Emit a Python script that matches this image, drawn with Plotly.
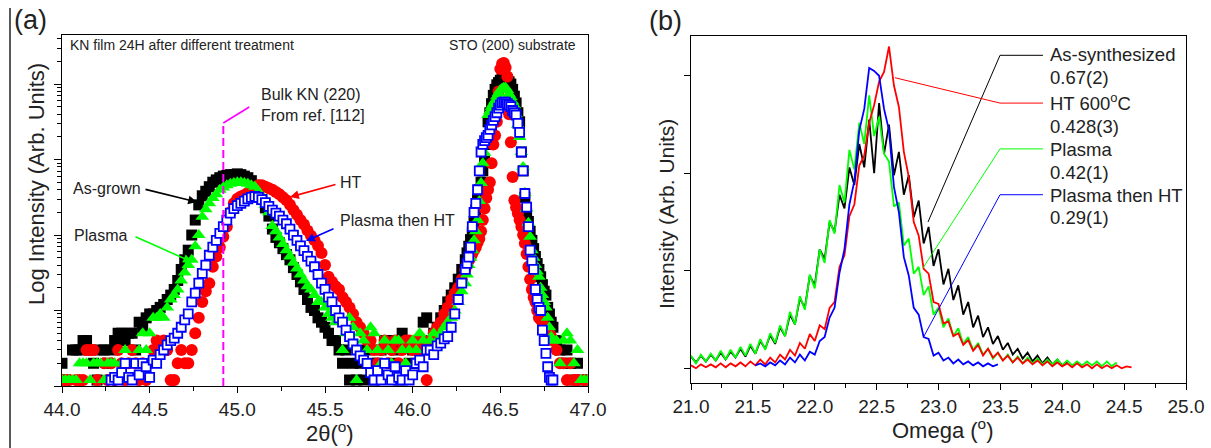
import plotly.graph_objects as go

# ---------------- Panel (a): 2theta scans (log intensity, counts) ----------------
TWO_THETA = [
    44.00, 44.02, 44.04, 44.06, 44.08, 44.10, 44.12, 44.14, 44.16, 44.18,
    44.20, 44.22, 44.24, 44.26, 44.28, 44.30, 44.32, 44.34, 44.36, 44.38,
    44.40, 44.42, 44.44, 44.46, 44.48, 44.50, 44.52, 44.54, 44.56, 44.58,
    44.60, 44.62, 44.64, 44.66, 44.68, 44.70, 44.72, 44.74, 44.76, 44.78,
    44.80, 44.82, 44.84, 44.86, 44.88, 44.90, 44.92, 44.94, 44.96, 44.98,
    45.00, 45.02, 45.04, 45.06, 45.08, 45.10, 45.12, 45.14, 45.16, 45.18,
    45.20, 45.22, 45.24, 45.26, 45.28, 45.30, 45.32, 45.34, 45.36, 45.38,
    45.40, 45.42, 45.44, 45.46, 45.48, 45.50, 45.52, 45.54, 45.56, 45.58,
    45.60, 45.62, 45.64, 45.66, 45.68, 45.70, 45.72, 45.74, 45.76, 45.78,
    45.80, 45.82, 45.84, 45.86, 45.88, 45.90, 45.92, 45.94, 45.96, 45.98,
    46.00, 46.02, 46.04, 46.06, 46.08, 46.10, 46.12, 46.14, 46.16, 46.18,
    46.20, 46.22, 46.24, 46.26, 46.28,
    46.30, 46.31, 46.32, 46.33, 46.34, 46.35, 46.36, 46.37, 46.38, 46.39,
    46.40, 46.41, 46.42, 46.43, 46.44, 46.45, 46.46, 46.47, 46.48, 46.49,
    46.50, 46.51, 46.52, 46.53, 46.54, 46.55, 46.56, 46.57, 46.58, 46.59,
    46.60, 46.61, 46.62, 46.63, 46.64, 46.65, 46.66, 46.67, 46.68, 46.69,
    46.70, 46.71, 46.72, 46.73, 46.74, 46.75, 46.76, 46.77, 46.78, 46.79,
    46.80, 46.82, 46.84, 46.86, 46.88, 46.90, 46.92, 46.94, 46.96, 46.98, 47.00,
]

AS_GROWN = [
    2, 1.2, None, 3, 3, 3, 4, 4, 3, 2,
    1.2, 3, 3, 2, 3, 4, 5, 5, 4, 5,
    5, 3, 7, 6, 8, 9, 9, 10, 11, 12,
    14, 16, 19, 25, 35, 47, 63, 100, 158, 251,
    331, 380, 437, 501, 537, 575, 603, 617, 631, 631,
    646, 631, 603, 575, 525, 457, 372, 295, 229, 178,
    120, 93, 79, 66, 55, 47, 37, 30, 24, 19,
    14, 11, 10, 8, 7, 6, 5, 4, 4, 3,
    2, 3, 1.2, 2, 1.2, 2, 1.2, 3, 2, 1.2,
    2, 3, 4, 4, 2, 3, 1.2, 5, 4, 2,
    3, 2, 4, 7, 8, 4, 5, 6, 8, 10,
    13, 16, 20, 26, 35,
    47, 58, 71, 87, 107, 151, 214, 295, 398, 501,
    708, 955, 1585, 3162, 4169, 5495, 7079, 8511, 9772, 10471,
    11220, 11482, 12023, 12023, 11482, 10715, 10000, 8511, 6918, 5623,
    4169, 3162, 1259, 708, 316, 195, 151, 112, 85, 66,
    52, 42, 35, 28, 22, 18, 16, 11, 9, 7,
    6, 4, 3, 2, 3, 2, 1.2, 2, 1.2, None, 1.2,
]

HT = [
    1.2, 1.2, 1.2, None, 1.2, 1.2, 1.2, 3, 3, 3,
    1.2, None, 2, 1.2, 2, 1.2, 3, 2, 1.2, 2,
    3, 2, 1.2, 2, 1.2, 2, 3, 4, 3, 4,
    3, 1.2, 1.2, 2, 3, 2, 2, 3, 5, 8,
    13, 18, 23, 38, 52, 69, 95, 129, 200, 263,
    302, 324, 339, 363, 389, 427, 457, 457, 437, 417,
    398, 372, 347, 316, 288, 251, 214, 186, 158, 138,
    115, 98, 85, 72, 58, 40, 28, 24, 21, 19,
    15, 13, 11, 9, 7, 6, 5, 4, 4, 3,
    2, 3, 4, 2, 3, 4, 2, 3, 4, 4,
    3, 4, 3, 4, 1.2, 4, 5, 6, 7, 9,
    11, 14, 17, 20, 26,
    35, 40, 46, 50, 56, 63, 69, 79, 89, 112,
    158, 224, 309, 398, 501, 891, 1585, 2089, 3162, 7943,
    15849, 18621, 19055, 16596, 12589, 3981, 1698, 589, 288, 234,
    195, 158, 129, 100, 78, 56, 38, 26, 19, 15,
    13, 10, 8, 7.6, 7, 6.3, 6, 5.2, 5, 4.5,
    4, 3, 2, 2, 1.2, 2, 1.2, 1.2, None, 1.2, None,
]

PLASMA = [
    1.2, 1.2, 1.2, 1.2, 1.2, 2, 2, 2, 1.2, 2,
    2, 2, 1.2, 2, 2, 2, 1.2, 2, 3, 2,
    2, 2, 3, 5, 3, 5, 8, 8, 9, 8,
    11, 14, 16, 19, 25, 32, 40, 47, 71, 100,
    174, 219, 263, 309, 347, 398, 427, 457, 479, 490,
    501, 501, 490, 479, 457, 437, 380, 316, 251, 200,
    132, 112, 93, 76, 63, 52, 43, 36, 30, 25,
    21, 19, 16, 13, 13, 11, 9, 8, 7, 8,
    3, 5, 8, 6, 1.2, 5, 4, 3, 6, 5,
    3, 2, 4, 3, 2, 4, 4, 3, 2, 3,
    4, 3, 5, 4, 3, 4, 5, 4, 5, 6,
    7, 8, 10, 13, 18,
    23, 30, 40, 50, 63, 85, 112, 158, 282, 490,
    891, 1230, 1995, 3890, 4365, 5012, 5495, 6026, 6918, 7586,
    8318, 8710, 8913, 8913, 8318, 7413, 6761, 5888, 5248, 3981,
    2884, 1995, 1259, 794, 363, 224, 145, 95, 63, 50,
    40, 33, 28, 20, 16, 13, 11, 8, 6, 4.5,
    4, 4, 2, 4, 5, 4, 2, 3, 1.2, 1.2, 1.2,
]

PLASMA_THEN_HT = [
    None, None, None, None, None, None, None, None, None, None,
    None, None, None, None, 1.2, 1.3, 1.2, 1.5, 2, 1.3,
    1.2, 2, 1.4, 2, 1.8, 1.3, 2.2, 2, 2.6, 3,
    3.5, 4, 4.3, 5, 6, 7.5, 9, 13, 17, 23,
    31, 40, 54, 69, 85, 105, 129, 158, 195, 224,
    245, 263, 282, 302, 316, 324, 316, 295, 269, 240,
    214, 195, 178, 158, 141, 120, 100, 85, 72, 62,
    52, 45, 38, 30, 23, 19, 15, 13, 10, 8,
    7, 5.5, 4.5, 3.6, 3, 2.5, 2.2, 2, 1.5, 1.2,
    1.6, 1.2, 2, 1.4, 1.2, 1.8, 1.3, 1.2, 1.6, 1.2,
    1.4, 2, 2.2, 1.8, 3, 3, 2.6, 3.4, 3.7, 4.2,
    4.5, 6, 9, 14, 23,
    35, 42, 51, 69, 129, 200, 263, 398, 708, 1259,
    1585, 1778, 1950, 2089, 2512, 2884, 3311, 3715, 4169, 4786,
    5248, 5623, 5754, 5754, 5495, 5248, 5012, 4467, 4169, 3890,
    3020, 2291, 1259, 708, 355, 234, 129, 63, 45, 35,
    19, 14, 11, 10, 5.5, 4, 2.7, 1.8, 1.3, 1.2,
    1.2, None, None, None, None, None, None, None, None, None, None,
]

# ---------------- Panel (b): rocking curves (omega scans, linear intensity) ----------------
OMEGA = [
    21.00, 21.04, 21.08, 21.12, 21.16, 21.20, 21.24, 21.28, 21.32, 21.36,
    21.40, 21.44, 21.48, 21.52, 21.56, 21.60, 21.64, 21.68, 21.72, 21.76,
    21.80, 21.84, 21.88, 21.92, 21.96, 22.00, 22.04, 22.08, 22.12, 22.16,
    22.20, 22.24, 22.28, 22.32, 22.36, 22.40, 22.44, 22.48, 22.52, 22.56,
    22.60, 22.64, 22.68, 22.72, 22.76, 22.80, 22.84, 22.88, 22.92, 22.96,
    23.00, 23.04, 23.08, 23.12, 23.16, 23.20, 23.24, 23.28, 23.32, 23.36,
    23.40, 23.44, 23.48, 23.52, 23.56, 23.60, 23.64, 23.68, 23.72, 23.76,
    23.80, 23.84, 23.88, 23.92, 23.96, 24.00, 24.04, 24.08, 24.12, 24.16,
    24.20, 24.24, 24.28, 24.32, 24.36, 24.40, 24.44, 24.48, 24.52, 24.56,
    24.60,
]

AS_SYNTHESIZED_B = [
    0.12, 0.06, 0.13, 0.07, 0.14, 0.08, 0.16, 0.09, 0.17, 0.11,
    0.20, 0.12, 0.23, 0.15, 0.28, 0.20, 0.34, 0.25, 0.42, 0.33,
    0.55, 0.45, 0.72, 0.62, 0.95, 0.85, 1.22, 1.12, 1.50, 1.40,
    1.78, 1.64, 2.06, 1.88, 2.30, 2.06, 2.55, 2.00, 2.72, 2.20,
    2.50, 1.98, 2.22, 1.78, 1.98, 1.55, 1.72, 1.28, 1.45, 1.05,
    1.22, 0.86, 1.02, 0.70, 0.85, 0.55, 0.68, 0.42, 0.54, 0.32,
    0.42, 0.25, 0.33, 0.19, 0.26, 0.14, 0.20, 0.10, 0.16, 0.07,
    0.13, 0.05, 0.11, 0.04, 0.09, 0.03, 0.07, None, None, None,
    None, None, None, None, None, None, None, None, None, None,
    None,
]

HT600_B = [
    0.03, 0.00, 0.04, 0.01, 0.04, 0.01, 0.05, 0.01, 0.05, 0.02,
    0.06, 0.02, 0.07, 0.03, 0.09, 0.04, 0.11, 0.06, 0.14, 0.09,
    0.19, 0.13, 0.26, 0.20, 0.35, 0.28, 0.44, 0.40, 0.62, 0.68,
    1.04, 1.16, 1.56, 1.68, 2.08, 2.18, 2.52, 2.70, 2.94, 3.04,
    3.30, 2.90, 2.68, 2.22, 1.96, 1.50, 1.36, 1.02, 0.97, 0.68,
    0.66, 0.46, 0.48, 0.33, 0.36, 0.24, 0.29, 0.18, 0.24, 0.13,
    0.20, 0.11, 0.16, 0.08, 0.13, 0.06, 0.11, 0.05, 0.09, 0.04,
    0.08, 0.03, 0.07, 0.02, 0.06, 0.02, 0.05, 0.01, 0.05, 0.01,
    0.04, 0.00, 0.04, 0.00, 0.03, 0.00, 0.03, 0.00, 0.02, 0.01,
    None,
]

PLASMA_B = [
    0.13, 0.05, 0.14, 0.07, 0.15, 0.08, 0.18, 0.09, 0.19, 0.11,
    0.22, 0.13, 0.25, 0.15, 0.30, 0.19, 0.36, 0.26, 0.44, 0.33,
    0.58, 0.45, 0.74, 0.60, 0.96, 0.82, 1.22, 1.08, 1.52, 1.38,
    1.88, 1.70, 2.24, 2.04, 2.52, 2.30, 2.80, 2.38, 2.58, 2.20,
    2.12, 1.66, 1.70, 1.26, 1.33, 0.97, 1.04, 0.75, 0.84, 0.55,
    0.62, 0.42, 0.51, 0.33, 0.41, 0.25, 0.32, 0.19, 0.26, 0.14,
    0.20, 0.10, 0.16, 0.08, 0.14, 0.06, 0.12, 0.05, 0.11, 0.05,
    0.10, 0.04, 0.09, 0.04, 0.09, 0.03, 0.08, 0.03, 0.07, 0.03,
    0.07, 0.03, 0.07, 0.02, 0.07, 0.02, 0.06, None, None, None,
    None,
]

PLASMA_THEN_HT_B = [
    None, None, None, None, None, None, None, None, None, None,
    None, None, None, 0.03, 0.05, 0.02, 0.06, 0.03, 0.08, 0.04,
    0.11, 0.06, 0.14, 0.08, 0.17, 0.14, 0.28, 0.32, 0.52, 0.62,
    0.98, 1.22, 1.68, 1.92, 2.44, 2.66, 3.08, 3.05, 3.00, 2.66,
    2.44, 1.86, 1.60, 1.14, 0.95, 0.62, 0.55, 0.32, 0.30, 0.13,
    0.16, 0.08, 0.11, 0.05, 0.09, 0.04, 0.07, 0.03, 0.06, 0.02,
    0.05, 0.02, 0.04, None, None, None, None, None, None, None,
    None, None, None, None, None, None, None, None, None, None,
    None, None, None, None, None, None, None, None, None, None,
    None,
]

B_LABELS = ["As-synthesized", "HT 600<sup>o</sup>C", "Plasma", "Plasma then HT"]
B_FWHM = ["0.67(2)", "0.428(3)", "0.42(1)", "0.29(1)"]

# ---------------- figure ----------------
W, H = 1211, 448
FONT = "Liberation Sans, Arial, sans-serif"
BLACK, RED, GREEN, BLUE, MAGENTA = "#000000", "#ff0000", "#00ff00", "#0000ff", "#ff00ff"


def px(x):
    return x / W


def py(y):
    return 1 - y / H


fig = go.Figure()

# panel (a) markers
fig.add_trace(go.Scatter(x=TWO_THETA, y=AS_GROWN, mode="markers", name="As-grown",
                         marker=dict(symbol="square", size=11, color=BLACK, line=dict(width=0)),
                         xaxis="x", yaxis="y"))
fig.add_trace(go.Scatter(x=TWO_THETA, y=HT, mode="markers", name="HT",
                         marker=dict(symbol="circle", size=12, color=RED, line=dict(width=0)),
                         xaxis="x", yaxis="y"))
fig.add_trace(go.Scatter(x=TWO_THETA, y=PLASMA, mode="markers", name="Plasma",
                         marker=dict(symbol="triangle-up", size=12, color=GREEN, line=dict(width=0)),
                         xaxis="x", yaxis="y"))
fig.add_trace(go.Scatter(x=TWO_THETA, y=PLASMA_THEN_HT, mode="markers", name="Plasma then HT",
                         marker=dict(symbol="square", size=9, color="white", line=dict(width=1.8, color=BLUE)),
                         xaxis="x", yaxis="y"))

# panel (b) lines
for ys, col in [(AS_SYNTHESIZED_B, BLACK), (PLASMA_B, GREEN), (HT600_B, RED), (PLASMA_THEN_HT_B, BLUE)]:
    fig.add_trace(go.Scatter(x=OMEGA, y=ys, mode="lines", line=dict(color=col, width=1.8),
                             xaxis="x2", yaxis="y2", connectgaps=False))

tickfont = dict(family=FONT, size=19, color="#222")
axis_common = dict(showgrid=False, zeroline=False, showline=True, linecolor="black", linewidth=1.2,
                   mirror=True, ticks="outside", tickcolor="black", tickwidth=1.2)

fig.update_layout(
    width=W, height=H, margin=dict(l=0, r=0, t=0, b=0),
    template="none", paper_bgcolor="white", plot_bgcolor="white", showlegend=False,
    xaxis=dict(domain=[px(62), px(588)], range=[44, 47], anchor="y", tick0=44, dtick=0.5,
               tickformat=".1f", ticklen=6, tickfont=tickfont,
               minor=dict(dtick=0.25, ticks="outside", ticklen=3.5, tickcolor="black", tickwidth=1),
               **axis_common),
    yaxis=dict(domain=[py(386), py(35)], type="log", range=[0, 4.65], anchor="x", dtick=1,
               ticklen=7, showticklabels=False,
               minor=dict(dtick="D1", ticks="outside", ticklen=4, tickcolor="black", tickwidth=1),
               **axis_common),
    xaxis2=dict(domain=[px(691), px(1186)], range=[21, 25], anchor="y2", tick0=21, dtick=0.5,
                tickformat=".1f", ticklen=6, tickfont=tickfont,
                minor=dict(dtick=0.25, ticks="outside", ticklen=3.5, tickcolor="black", tickwidth=1),
                **axis_common),
    yaxis2=dict(domain=[py(383), py(36)], range=[-0.151, 3.408], anchor="x2", tick0=0, dtick=1,
                ticklen=6, showticklabels=False, **axis_common),
)

shapes = []
# thin frame line at far left
shapes.append(dict(type="line", xref="paper", yref="paper", x0=px(10), x1=px(10), y0=py(8), y1=py(448),
                   line=dict(color="black", width=1.3)))
# bulk KN (220) reference marker
shapes.append(dict(type="line", xref="x", yref="paper", x0=44.92, x1=44.92, y0=py(386), y1=py(123),
                   line=dict(color=MAGENTA, width=2, dash="8px,4px")))
shapes.append(dict(type="line", xref="x", yref="paper", x0=44.92, x1=45.068, y0=py(123), y1=py(107),
                   line=dict(color=MAGENTA, width=1.6)))

# panel (b) leader lines: (curve point) -> (corner) -> (label)
LEADERS = [
    (22.915, 1.50, 23.497, 3.21, BLACK),
    (22.648, 2.98, 23.497, 2.72, RED),
    (22.875, 1.03, 23.497, 2.25, GREEN),
    (22.883, 0.33, 23.497, 1.78, BLUE),
]
for x0, y0, xc, yc, col in LEADERS:
    shapes.append(dict(type="line", xref="x2", yref="y2", x0=x0, y0=y0, x1=xc, y1=yc,
                       line=dict(color=col, width=1)))
    shapes.append(dict(type="line", xref="x2", yref="y2", x0=xc, y0=yc, x1=23.844, y1=yc,
                       line=dict(color=col, width=1)))
fig.update_layout(shapes=shapes)

ann = []


def text(x, y, s, size, anchor="left", angle=0, color="#222"):
    ann.append(dict(x=px(x), y=py(y), xref="paper", yref="paper", text=s, showarrow=False,
                    xanchor=anchor, yanchor="middle", textangle=angle,
                    font=dict(family=FONT, size=size, color=color)))


def arrow(tx, ty, hx, hy, col):
    ann.append(dict(x=px(hx), y=py(hy), xref="paper", yref="paper", text="", showarrow=True,
                    ax=tx - hx, ay=ty - hy, axref="pixel", ayref="pixel",
                    arrowhead=2, arrowsize=1.1, arrowwidth=1.6, arrowcolor=col, standoff=0, startstandoff=0))


text(12, 20, "(a)", 27)
text(647, 21, "(b)", 27)
text(36, 184, "Log Intensity (Arb. Units)", 22, anchor="center", angle=-90)
text(666, 214, "Intensity (Arb. Units)", 21, anchor="center", angle=-90)
text(330, 432, "2θ(<sup>o</sup>)", 22, anchor="center")
text(943, 429, "Omega (<sup>o</sup>)", 22, anchor="center")

text(68, 45, "KN film 24H after different treatment", 14)
text(578, 45, "STO (200) substrate", 14, anchor="right")
text(259, 95, "Bulk KN (220)", 16)
text(259, 116, "From ref. [112]", 16)
text(143, 188, "As-grown", 16, anchor="right")
text(129, 235, "Plasma", 16, anchor="right")
text(338, 183, "HT", 16)
text(338, 220, "Plasma then HT", 16)
arrow(144, 189, 197, 202, BLACK)
arrow(134, 236, 192, 262, GREEN)
arrow(337, 184, 290, 197, RED)
arrow(335, 228, 306, 241, BLUE)

LABEL_Y = [54, 102, 149, 195]
VALUE_Y = [78, 126, 172, 218]
for lab, val, yl, yv in zip(B_LABELS, B_FWHM, LABEL_Y, VALUE_Y):
    text(1048, yl, lab, 18.5)
    text(1048, yv, val, 18.5)

fig.update_layout(annotations=ann)

fig.write_html("out.html")
